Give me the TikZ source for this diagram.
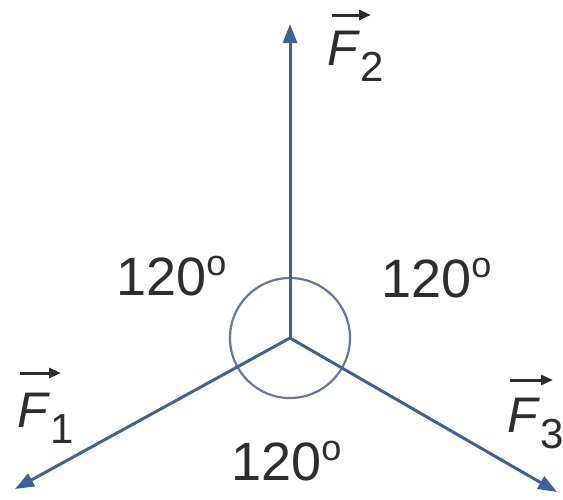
\documentclass[tikz,border=0pt]{standalone}
\usepackage{fontspec}
\setmainfont{Liberation Sans}
\usetikzlibrary{arrows.meta,calc}
\definecolor{vecblue}{RGB}{62,98,152}
\definecolor{circblue}{RGB}{105,118,150}
\definecolor{txt}{RGB}{45,45,45}
\newcommand{\flabel}[1]{\fontsize{50}{50}\selectfont\textit{F}\raisebox{-16pt}{\fontsize{42}{42}\selectfont #1}}
\newcommand{\anglab}{\fontsize{54}{54}\selectfont 120\raisebox{20pt}{\fontsize{36}{36}\selectfont o}}
\begin{document}
\begin{tikzpicture}[x=1pt,y=-1pt,
  force/.style={draw=vecblue,line width=3pt,-{Triangle[length=19pt,width=14pt]}},
  vecbar/.style={draw=txt,line width=3pt,-{Triangle[length=12pt,width=10pt]}},
  lab/.style={anchor=base west,inner sep=0pt,text=txt}]
\useasboundingbox (0,0) rectangle (563,499);
\coordinate (O) at (290,338);
\coordinate (T2) at (290,24);
\coordinate (T1) at (15,489);
\coordinate (T3) at (557,492);
\draw[circblue,line width=2.2pt] (O) circle (60);
\draw[force] (O) -- (T2);
\draw[force] (O) -- (T1);
\draw[force] (O) -- (T3);
\node[lab] (f2) at (327,65) {\flabel{2}};
\node[lab] (f1) at (17,427) {\flabel{1}};
\node[lab] (f3) at (507,432) {\flabel{3}};
\draw[vecbar] ($(f2.base west)+(5,-50)$) -- ($(f2.base west)+(44,-50)$);
\draw[vecbar] ($(f1.base west)+(3,-54)$) -- ($(f1.base west)+(44,-54)$);
\draw[vecbar] ($(f3.base west)+(3,-52)$) -- ($(f3.base west)+(46,-52)$);
\node[lab] (a1) at (116,295) {\anglab};
\node[lab] (a2) at (381,297) {\anglab};
\node[lab] (a3) at (231,480) {\anglab};
\end{tikzpicture}
\end{document}
